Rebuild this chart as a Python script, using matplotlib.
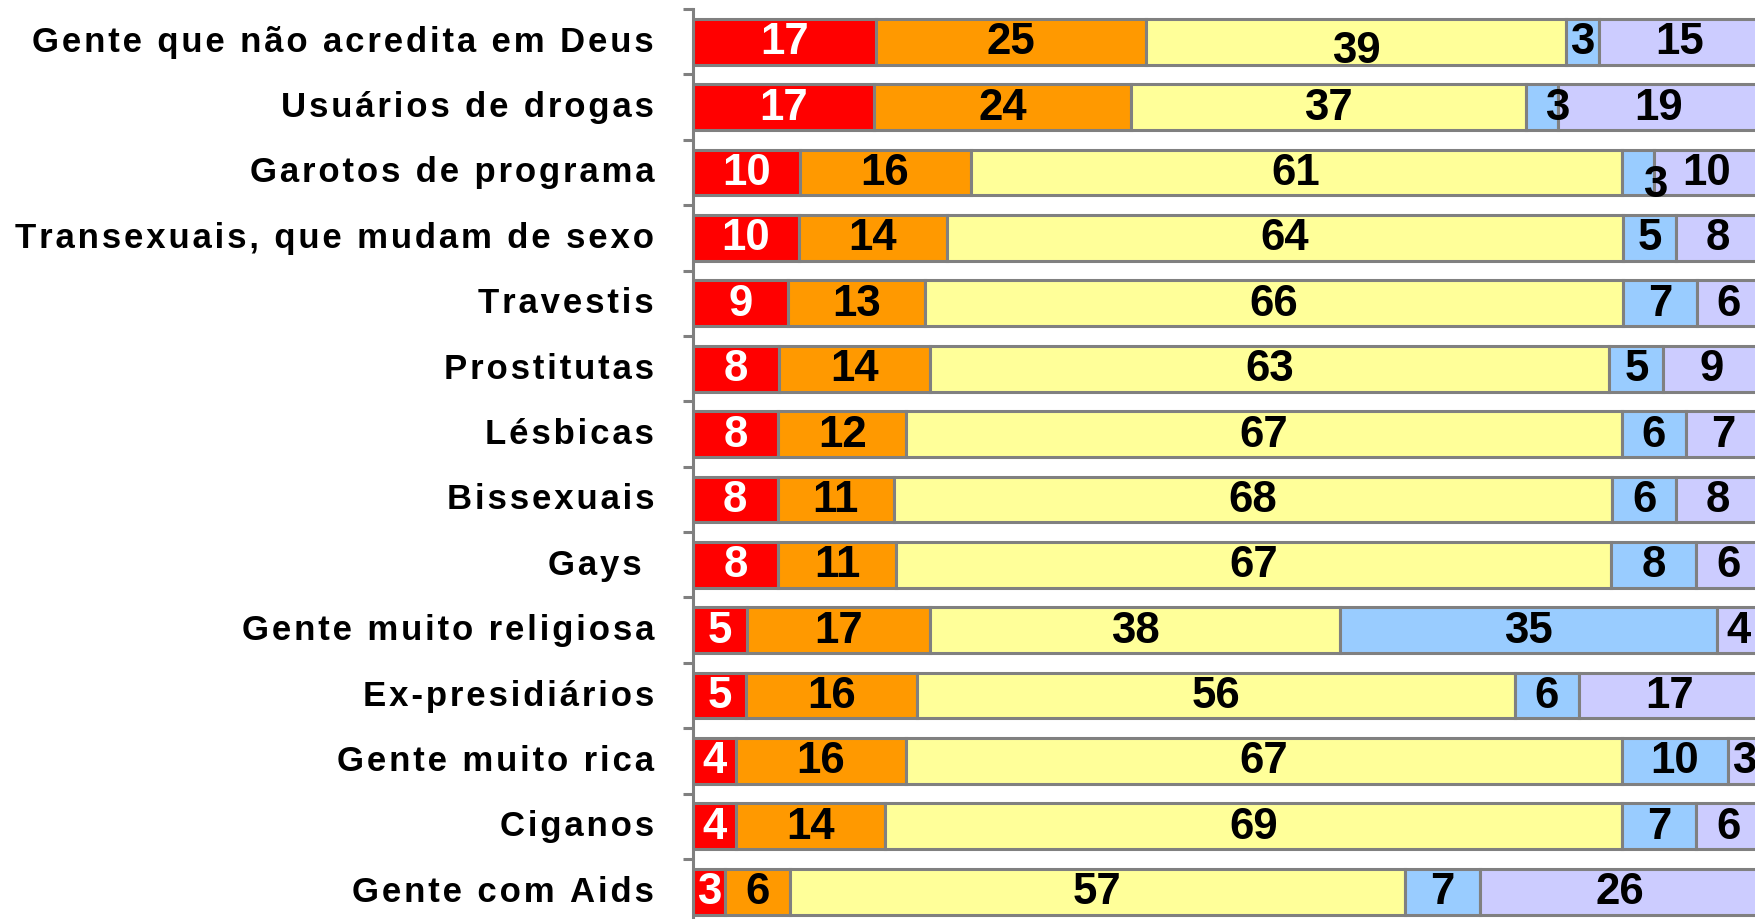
import numpy as np
import matplotlib
matplotlib.use('Agg')
import matplotlib.pyplot as plt
from matplotlib.transforms import ScaledTranslation

# categories, top to bottom
categories = ['Gente que não acredita em Deus', 'Usuários de drogas', 'Garotos de programa',
              'Transexuais, que mudam de sexo', 'Travestis', 'Prostitutas', 'Lésbicas',
              'Bissexuais', 'Gays ', 'Gente muito religiosa', 'Ex-presidiários',
              'Gente muito rica', 'Ciganos', 'Gente com Aids']

# the five stacked segments of each bar (percent)
seg_red = [17, 17, 10, 10, 9, 8, 8, 8, 8, 5, 5, 4, 4, 3]
seg_orange = [25, 24, 16, 14, 13, 14, 12, 11, 11, 17, 16, 16, 14, 6]
seg_yellow = [39, 37, 61, 64, 66, 63, 67, 68, 67, 38, 56, 67, 69, 57]
seg_blue = [3, 3, 3, 5, 7, 5, 6, 6, 8, 35, 6, 10, 7, 7]
seg_lilac = [15, 19, 10, 8, 6, 9, 7, 8, 6, 4, 17, 3, 6, 26]

segments = [seg_red, seg_orange, seg_yellow, seg_blue, seg_lilac]
colors = ['#FF0000', '#FF9900', '#FFFF99', '#99CCFF', '#CCCCFF']
text_colors = ['white', 'black', 'black', 'black', 'black']

# a few labels sit off-centre in the original (row, segment) -> (dx, dy) in points
label_nudge = {(0, 2): (0, -6), (1, 3): (11, 0), (2, 3): (13, -9)}

fam = ['Liberation Sans', 'DejaVu Sans']

fig = plt.figure(figsize=(17.55, 9.2), dpi=100)
ax = fig.add_axes([693 / 1755, -5.4 / 920, 1 - 693 / 1755, 915.4 / 920])

# 100% stacked: every row is scaled to a total of 100
totals = np.sum(np.array(segments), axis=0)

y = np.arange(len(categories))
left = np.zeros(len(categories))
for k, (vals, col, tcol) in enumerate(zip(segments, colors, text_colors)):
    vals = np.array(vals)
    widths = vals / totals * 100
    bars = ax.barh(y, widths, left=left, height=0.70, color=col,
                   edgecolor='#808080', linewidth=2.2, zorder=2)
    for i, (b, v) in enumerate(zip(bars, vals)):
        dx, dy = label_nudge.get((i, k), (0, 0))
        ax.annotate(str(v), (b.get_x() + b.get_width() / 2, b.get_y() + b.get_height() / 2),
                    xytext=(dx, dy), textcoords='offset points',
                    ha='center', va='center', color=tcol, fontsize=31.5,
                    fontweight='bold', family=fam, zorder=3, annotation_clip=False,
                    clip_on=True)
    left += widths

ax.set_xlim(0, 99.5)
ax.set_ylim(len(categories) - 0.5, -0.5)

# category labels with some letter spacing
spaced = ['\u200a'.join(c) for c in categories]
ax.set_yticks(y)
ax.set_yticklabels(spaced, fontsize=25, fontweight='bold', family=fam)
ax.tick_params(axis='y', which='major', length=0, pad=28)
shift = ScaledTranslation(0, 4 / 100, fig.dpi_scale_trans)
for lab in ax.get_yticklabels():
    lab.set_transform(lab.get_transform() + shift)
ax.set_yticks(np.arange(-0.5, len(categories) + 0.5, 1), minor=True)
ax.tick_params(axis='y', which='minor', length=7, width=2.2, color='#808080')

ax.set_xticks([])
for s in ['top', 'right', 'bottom']:
    ax.spines[s].set_visible(False)
ax.spines['left'].set_color('#808080')
ax.spines['left'].set_linewidth(2.2)

fig.savefig('out.png', dpi=100)
